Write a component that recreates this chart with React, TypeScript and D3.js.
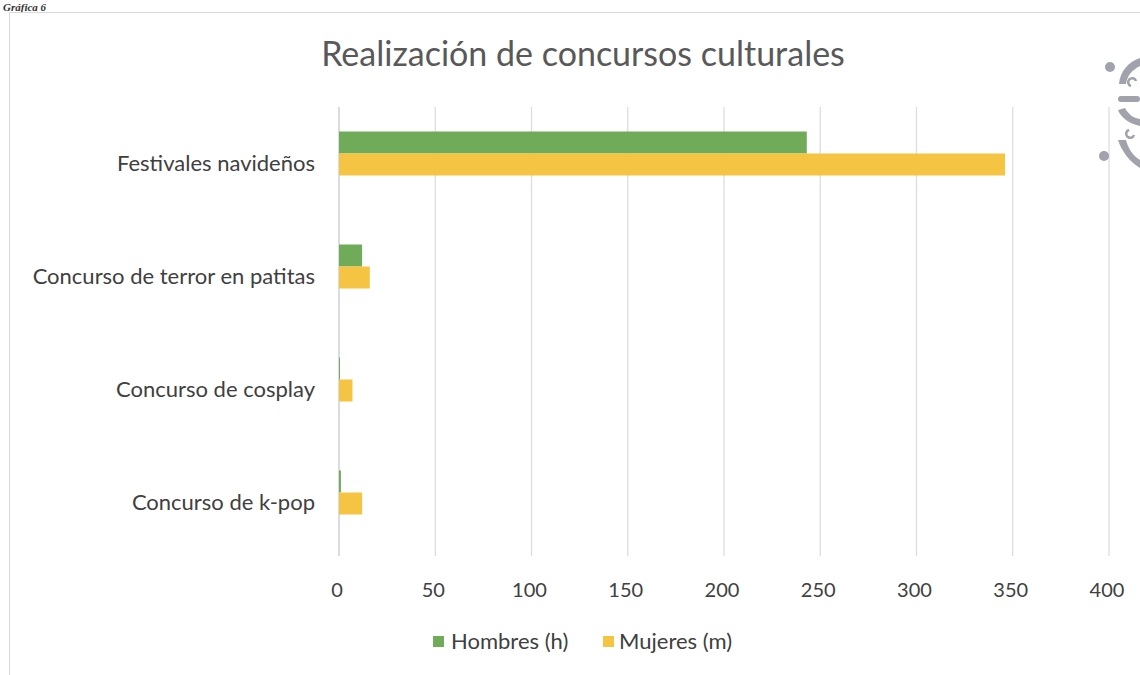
import React from "react";
import * as d3 from "d3";

const categories = [
  "Festivales navideños",
  "Concurso de terror en patitas",
  "Concurso de cosplay",
  "Concurso de k-pop",
];
const hombres = [243, 12, 0.5, 1];
const mujeres = [346, 16, 7, 12];
const seriesNames = ["Hombres (h)", "Mujeres (m)"];
const xTicks = [0, 50, 100, 150, 200, 250, 300, 350, 400];

const W = 1140;
const H = 675;
const GREEN = "#6FAB59";
const YELLOW = "#F6C443";
const FONT = "Lato, 'Open Sans', sans-serif";

export default function App() {
  const x = d3.scaleLinear().domain([0, 400]).range([339, 1109]);
  const y = d3.scaleBand<string>().domain(categories).range([107, 559]);
  const barH = 22;

  return (
    <svg
      width={W}
      height={H}
      style={{ position: "absolute", left: 0, top: 0, background: "#fff" }}
      fontFamily={FONT}
    >
      <rect x={0} y={0} width={W} height={H} fill="#fff" />
      <text x={3} y={11} fontFamily="'Liberation Serif', serif" fontWeight="bold" fontStyle="italic" fontSize={11} fill="#333">Gráfica 6</text>
      <rect x={9.5} y={12.5} width={1140} height={700} fill="none" stroke="#d9d9d9" />
      <text x={583} y={66} textAnchor="middle" fontSize={34} fill="#595959">
        Realización de concursos culturales
      </text>

      {xTicks.map((t) => (
        <line key={t} x1={x(t)} x2={x(t)} y1={107} y2={556} stroke={t === 0 ? "#c8c8d4" : "#dcdce4"} strokeWidth={1.3} />
      ))}

      {categories.map((c, i) => {
        const cy = (y(c) as number) + y.bandwidth() / 2;
        return (
          <g key={c}>
            <rect x={x(0)} y={cy - barH - 10} width={x(hombres[i]) - x(0)} height={barH} fill={GREEN} />
            <rect x={x(0)} y={cy - 10} width={x(mujeres[i]) - x(0)} height={barH} fill={YELLOW} />
            <text x={315} y={cy} dy="0.35em" textAnchor="end" fontSize={22} fill="#404040">{c}</text>
          </g>
        );
      })}

      {xTicks.map((t) => (
        <text key={"l" + t} x={x(t) - 2} y={590} dy="0.35em" textAnchor="middle" fontSize={20} fill="#404040">{t}</text>
      ))}

      <g>
        <rect x={433} y={636} width={11} height={11} fill={GREEN} />
        <text x={451} y={641} dy="0.35em" fontSize={22} fill="#404040">{seriesNames[0]}</text>
        <rect x={603} y={636} width={11} height={11} fill={YELLOW} />
        <text x={619} y={641} dy="0.35em" fontSize={22} fill="#404040">{seriesNames[1]}</text>
      </g>

      <g fill="#8a8b98" opacity={0.8}>
        <circle cx={1110} cy={67} r={5} />
        <circle cx={1104} cy={156} r={5} />
        <path d="M1140,58 C1128,62 1120,72 1119,84 L1126,84 C1127,76 1132,70 1140,66 Z" />
        <path d="M1140,126 C1130,124 1121,118 1118,110 L1125,108 C1128,114 1133,118 1140,119 Z" />
        <path d="M1118,140 C1122,152 1130,162 1140,168 L1140,160 C1133,156 1128,148 1126,140 Z" />
        <rect x={1118} y={96} width={22} height={6} rx={3} />
      </g>
      <g fill="none" stroke="#8a8b98" strokeWidth={2.5} opacity={0.8}>
        <path d="M1131,86 a4,4 0 1,1 5,-5" />
        <path d="M1129,130 a4,4 0 1,0 5,5" />
      </g>
    </svg>
  );
}
